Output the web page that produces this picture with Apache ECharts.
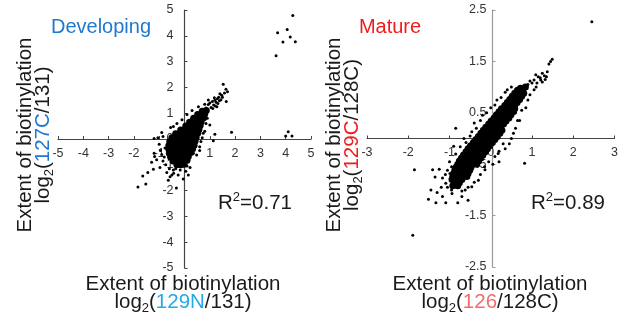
<!DOCTYPE html>
<html>
<head>
<meta charset="utf-8">
<script src="https://cdn.jsdelivr.net/npm/echarts@6/dist/echarts.min.js"></script>
<style>
  html, body { margin: 0; padding: 0; background: #fff; }
  #chart { width: 621px; height: 318px; }
</style>
</head>
<body>
<div id="chart"></div>
<script>
// axis ranges / ticks
const devTicks = [-5, 5, 1];
const matXTicks = [-3, 3, 1];
const matYTicks = [-2.5, 2.5, 1];

// Developing panel: dense core + scattered points
const devCore = [
  [-0.3,-1.0],[-0.15,-1.0],[-0.02,-0.98],
  [-0.45,-0.85],[-0.3,-0.85],[-0.15,-0.85],[0,-0.85],[0.1,-0.82],
  [-0.55,-0.7],[-0.4,-0.7],[-0.25,-0.7],[-0.1,-0.7],[0.05,-0.7],[0.15,-0.68],
  [-0.6,-0.55],[-0.45,-0.55],[-0.3,-0.55],[-0.15,-0.55],[0,-0.55],[0.15,-0.55],[0.25,-0.52],
  [-0.62,-0.4],[-0.48,-0.4],[-0.34,-0.4],[-0.2,-0.4],[-0.05,-0.4],[0.1,-0.4],[0.22,-0.4],[0.32,-0.38],
  [-0.62,-0.25],[-0.48,-0.25],[-0.34,-0.25],[-0.2,-0.25],[-0.05,-0.25],[0.1,-0.25],[0.25,-0.25],[0.38,-0.24],
  [-0.58,-0.1],[-0.45,-0.1],[-0.3,-0.1],[-0.15,-0.1],[0,-0.1],[0.15,-0.1],[0.3,-0.1],[0.42,-0.08],
  [-0.5,0.05],[-0.36,0.05],[-0.22,0.05],[-0.08,0.05],[0.06,0.05],[0.2,0.05],[0.34,0.05],[0.46,0.06],
  [-0.35,0.2],[-0.2,0.2],[-0.05,0.2],[0.1,0.2],[0.25,0.2],[0.4,0.2],[0.52,0.22],
  [-0.15,0.35],[0,0.35],[0.15,0.35],[0.3,0.35],[0.45,0.35],[0.57,0.37],
  [0.05,0.5],[0.2,0.5],[0.35,0.5],[0.5,0.5],[0.62,0.52],
  [0.2,0.65],[0.35,0.65],[0.5,0.65],[0.66,0.67],
  [0.36,0.8],[0.5,0.8],[0.64,0.8],[0.76,0.82],
  [0.52,0.95],[0.66,0.95],[0.8,0.97],
  [0.7,1.08],[0.86,1.1]
];
const devDots = [
  [3.62,3.23],[3.68,4.12],[3.89,3.76],[4.06,4.24],[4.18,3.95],[4.28,4.79],[4.38,3.77],
  [4.0,0.12],[4.1,0.28],[4.25,0.12],[1.86,0.26],[1.2,0.18],[1.0,0.54],[1.14,-0.07],[0.74,0.22],
  [1.53,2.12],[1.64,1.93],[1.7,1.83],[1.47,1.7],[1.3,1.56],[1.65,1.45],[0.94,1.34],[0.94,1.51],
  [1.4,1.75],[1.35,1.62],[1.2,1.5],[1.25,1.42],[1.1,1.45],[1.5,1.62],[1.15,1.32],[1.32,1.38],
  [1.44,1.52],[1.05,1.22],[1.0,1.4],[1.22,1.28],[1.58,1.78],[1.38,1.48],[1.12,1.18],[1.28,1.25],
  [0.85,1.2],[0.8,1.35],[1.18,1.6],
  [-1.84,-1.86],[-1.53,-1.74],[-1.65,-1.43],[-1.23,-1.17],[-0.97,-1.1],[-0.74,-1.0],[-0.64,-1.6],
  [-0.5,-1.4],[-0.25,-1.4],[-0.17,-1.2],[0.22,-1.1],[-0.32,-1.9],[-0.43,-1.33],[0.48,-0.62],
  [-0.44,0.48],[-0.77,-0.35],[-1.05,0.05],[-1.2,0.02],[-1.2,-0.55],[-1.18,-0.68],[-0.9,-0.6],
  [-1.0,-0.2],[0.35,-0.55],[-0.18,-0.93],[-0.44,-1.2],[-0.57,-1.46],[-0.85,-0.85],[-0.6,-1.15],
  [-0.35,-1.15],[0.05,-1.25],[0.1,-1.05],[-0.9,0.25],[-0.95,-0.45],[-0.85,0.1],[0.6,-0.3],
  [0.65,-0.1],[0.7,0.05],[0.8,0.3],[0.85,0.6],[0.9,0.8],[-0.55,0.45],[-0.3,0.6],[-0.1,0.75],
  [0.1,0.95],[0.3,1.1],[0.55,1.25],[0.6,-0.45],[0.15,-1.4],[-0.05,-1.55],[-0.8,-0.7],
  [-1.3,-0.9],[-1.45,-1.3],[-0.7,-1.3],[-1.1,-0.8]
];

// Mature panel
const matCore = [
  [0.72,0.98],[0.84,1.0],
  [0.65,0.94],[0.77,0.94],
  [0.58,0.88],[0.7,0.88],[0.8,0.88],
  [0.52,0.82],[0.64,0.82],[0.75,0.82],
  [0.46,0.76],[0.58,0.76],[0.7,0.76],
  [0.4,0.7],[0.52,0.7],[0.64,0.7],
  [0.34,0.64],[0.46,0.64],[0.58,0.64],
  [0.26,0.58],[0.38,0.58],[0.5,0.58],[0.58,0.58],
  [0.2,0.52],[0.32,0.52],[0.44,0.52],[0.54,0.52],
  [0.14,0.46],[0.26,0.46],[0.38,0.46],[0.49,0.46],
  [0.08,0.4],[0.2,0.4],[0.32,0.4],[0.44,0.4],
  [0.01,0.34],[0.13,0.34],[0.25,0.34],[0.37,0.34],
  [-0.05,0.28],[0.07,0.28],[0.19,0.28],[0.31,0.28],
  [-0.12,0.22],[0,0.22],[0.12,0.22],[0.24,0.22],
  [-0.18,0.16],[-0.06,0.16],[0.06,0.16],[0.18,0.16],[0.27,0.16],
  [-0.24,0.1],[-0.12,0.1],[0,0.1],[0.12,0.1],[0.22,0.1],
  [-0.3,0.04],[-0.18,0.04],[-0.06,0.04],[0.06,0.04],[0.16,0.04],
  [-0.36,-0.02],[-0.24,-0.02],[-0.12,-0.02],[0,-0.02],[0.1,-0.02],
  [-0.42,-0.08],[-0.3,-0.08],[-0.18,-0.08],[-0.06,-0.08],[0.04,-0.08],
  [-0.49,-0.14],[-0.37,-0.14],[-0.25,-0.14],[-0.13,-0.14],[-0.02,-0.14],
  [-0.55,-0.2],[-0.43,-0.2],[-0.31,-0.2],[-0.19,-0.2],[-0.08,-0.2],
  [-0.6,-0.26],[-0.48,-0.26],[-0.36,-0.26],[-0.24,-0.26],[-0.13,-0.26],
  [-0.66,-0.32],[-0.54,-0.32],[-0.42,-0.32],[-0.3,-0.32],[-0.19,-0.32],
  [-0.71,-0.38],[-0.59,-0.38],[-0.47,-0.38],[-0.35,-0.38],[-0.24,-0.38],
  [-0.76,-0.44],[-0.64,-0.44],[-0.52,-0.44],[-0.4,-0.44],[-0.3,-0.44],
  [-0.8,-0.5],[-0.68,-0.5],[-0.56,-0.5],[-0.44,-0.5],[-0.34,-0.5],
  [-0.84,-0.56],[-0.72,-0.56],[-0.6,-0.56],[-0.48,-0.56],
  [-0.87,-0.62],[-0.75,-0.62],[-0.63,-0.62],[-0.51,-0.62],
  [-0.9,-0.68],[-0.78,-0.68],[-0.66,-0.68],[-0.55,-0.68],
  [-0.92,-0.74],[-0.8,-0.74],[-0.68,-0.74],[-0.58,-0.74],
  [-0.94,-0.8],[-0.82,-0.8],[-0.7,-0.8],
  [-0.88,-0.86],[-0.76,-0.86],
  [-0.92,-0.92],[-0.8,-0.92]
];
const matDots = [
  [2.45,2.27],[1.49,1.54],[1.45,1.5],[1.41,1.45],[1.37,1.3],[1.3,1.22],[1.25,1.27],[1.2,1.18],
  [1.09,1.24],[1.21,1.14],[1.05,1.14],[1.12,1.08],[1.15,1.2],[1.32,1.15],[1.0,1.08],[0.95,1.12],
  [1.1,1.0],[1.25,1.1],[1.35,1.2],[0.9,1.05],[1.05,0.95],
  [0.82,-0.48],[-0.85,0.2],[-0.46,0.13],[-0.74,-0.16],[0.18,-0.29],[-1.89,-1.88],[-1.85,-0.61],
  [-1.41,-0.61],[-1.51,-1.18],[-1.33,-1.25],[-1.45,-1.0],[-1.09,-1.25],[-1.17,-1.13],[-0.94,-1.07],
  [-0.7,-1.13],[-0.62,-1.0],[-1.09,-0.87],[-1.17,-0.77],[-0.99,-0.68],[-0.14,-0.61],[-0.3,-0.81],
  [-0.46,-0.94],[-1.2,-0.95],[-1.25,-0.6],[-1.0,-0.45],[-0.55,-0.15],[-0.65,0.0],[-0.4,0.3],
  [-0.2,0.45],[0.0,0.6],[0.15,0.75],[0.35,0.9],[0.5,1.0],[0.6,0.2],[0.5,0.0],[0.45,-0.1],
  [0.35,-0.2],[0.2,-0.45],[0.7,0.35],[0.85,0.6],[0.9,0.75],[-0.8,-1.25],[-0.55,-1.2],
  [-1.3,-1.05],[-1.35,-0.75],[-0.85,-0.3],[0.05,-0.5],[0.6,0.5],
  [-0.95,-0.55],[-1.05,-0.62],[-0.5,0.05],[-0.6,-0.08],[-0.35,0.2],[-0.25,0.35],[-0.1,0.5],
  [0.1,0.65],[0.25,0.8],[0.4,0.95],[0.65,0.35],[0.55,0.1],[0.3,-0.1],[0.2,-0.25],[0.1,-0.35],
  [-0.05,-0.45],[-0.15,-0.55],[-0.25,-0.7],[-0.4,-0.85],[-0.55,-0.95],[-0.7,-1.02],[-0.95,-1.0],
  [-1.05,-0.95],[0.75,0.55],[0.95,0.85],[0.6,0.95],[-1.1,-0.7],[-0.9,-0.15]
];

const R2 = ['0.71', '0.89'];

const FONT = '"Liberation Sans", Arial, sans-serif';
const TXT = '#1a1a1a';

// axes placed on the zero line of the other axis (offset = distance from grid edge)
function axis(grid, ticks, lineColor, margin, offset) {
  return {
    gridIndex: grid, type: 'value',
    min: ticks[0], max: ticks[1], interval: ticks[2],
    offset: offset,
    axisLine: { onZero: false, lineStyle: { color: lineColor, width: 1.2 } },
    axisTick: { inside: true, length: 3, lineStyle: { color: lineColor } },
    axisLabel: { color: '#333', fontSize: 12.5, fontFamily: FONT, margin: margin,
      showMinLabel: true, showMaxLabel: true },
    splitLine: { show: false }
  };
}

function dots(xi, data, size) {
  return {
    type: 'scatter', xAxisIndex: xi, yAxisIndex: xi,
    data: data, symbolSize: size, silent: true,
    itemStyle: { color: '#000', opacity: 1 }
  };
}

const rich = {
  b: { fontSize: 20.5, fontFamily: FONT, fill: TXT },
  sub: { fontSize: 13, fontFamily: FONT, fill: TXT, padding: [12, 0, 0, 0] },
  sup: { fontSize: 13, fontFamily: FONT, fill: TXT, padding: [0, 0, 12, 0] },
  blue: { fontSize: 20.5, fontFamily: FONT, fill: '#1f78d1' },
  cyan: { fontSize: 20.5, fontFamily: FONT, fill: '#26a9e6' },
  red: { fontSize: 20.5, fontFamily: FONT, fill: '#f01c1c' },
  pink: { fontSize: 20.5, fontFamily: FONT, fill: '#f56b6b' }
};

function label(x, y, text, rot, extra) {
  return {
    type: 'text', x: x, y: y, rotation: rot || 0, silent: true,
    style: Object.assign({
      text: text, align: 'center', verticalAlign: 'middle',
      lineHeight: 18, rich: rich, font: '20.5px ' + FONT, fill: TXT
    }, extra || {})
  };
}

const chart = echarts.init(document.getElementById('chart'), null, { renderer: 'canvas' });
chart.setOption({
  animation: false,
  backgroundColor: '#fff',
  grid: [
    { left: 58, top: 10, width: 253, height: 258 },
    { left: 367, top: 10, width: 251, height: 257 }
  ],
  xAxis: [axis(0, devTicks, '#444', 8, -129), axis(1, matXTicks, '#444', 8, -128.5)],
  yAxis: [axis(0, devTicks, '#444', 11, -126.5), axis(1, matYTicks, '#9a9a9a', 6, -125.5)],
  series: [
    dots(0, devCore, 7), dots(0, devDots, 3),
    dots(1, matCore, 7), dots(1, matDots, 3)
  ],
  graphic: [
    label(101, 27, 'Developing', 0, { fill: '#1f78d1', font: '20px ' + FONT }),
    label(390, 27, 'Mature', 0, { fill: '#f01c1c', font: '20px ' + FONT }),
    label(34, 135, '{b|Extent of biotinylation}\n{b|log}{sub|2}{b|(}{blue|127C}{b|/131)}', Math.PI / 2),
    label(343, 135, '{b|Extent of biotinylation}\n{b|log}{sub|2}{b|(}{red|129C}{b|/128C)}', Math.PI / 2),
    label(183, 293, '{b|Extent of biotinylation}\n{b|log}{sub|2}{b|(}{cyan|129N}{b|/131)}', 0),
    label(490, 293, '{b|Extent of biotinylation}\n{b|log}{sub|2}{b|(}{pink|126}{b|/128C)}', 0),
    label(255, 203, '{b|R}{sup|2}{b|=' + R2[0] + '}', 0),
    label(568, 203, '{b|R}{sup|2}{b|=' + R2[1] + '}', 0)
  ]
});
</script>
</body>
</html>
